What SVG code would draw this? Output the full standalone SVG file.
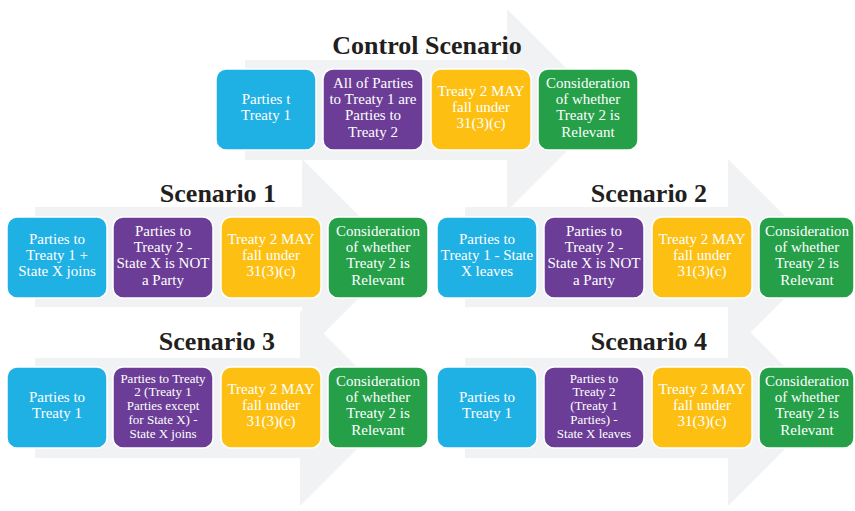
<svg xmlns="http://www.w3.org/2000/svg" width="855" height="511" viewBox="0 0 855 511">
<style>
.bg{fill:#f1f2f4}
.box{stroke:#ffffff;stroke-width:1.5}
.blue{fill:#1fb0e4}
.purple{fill:#6b3d96}
.yellow{fill:#fcbf12}
.green{fill:#25a049}
.t{font-family:"Liberation Serif","Times New Roman",serif;font-size:15px;fill:#ffffff;text-anchor:middle}
.s{font-size:13px}
.title{font-family:"Liberation Serif","Times New Roman",serif;font-size:26px;font-weight:bold;fill:#231f20;text-anchor:middle}
</style>
<rect width="855" height="511" fill="#ffffff"/>
<g id="connectors">
<path class="bg" d="M245,60 H507 V9 L608,110 L507,211 V160 H245 Z"/>
<path class="bg" d="M35,207 H302 V159 L400,257 L302,355 V307 H35 Z"/>
<path class="bg" d="M465,207 H728 V159 L826,257 L728,355 V307 H465 Z"/>
<path class="bg" d="M35,358 H300 V310 L398,408 L300,506 V458 H35 Z"/>
<path class="bg" d="M465,358 H728 V310 L826,408 L728,506 V458 H465 Z"/>
</g>
<g id="control">
<text class="title" x="427" y="54">Control Scenario</text>
<g id="c1"><rect class="box blue" x="216" y="69" width="100" height="81" rx="10"/>
<text class="t"><tspan x="266" y="104.2">Parties t</tspan><tspan x="266" y="120.4">Treaty 1</tspan></text></g>
<g id="c2"><rect class="box purple" x="323" y="69" width="100" height="81" rx="10"/>
<text class="t"><tspan x="373" y="87.9">All of Parties</tspan><tspan x="373" y="104.1">to Treaty 1 are</tspan><tspan x="373" y="120.3">Parties to</tspan><tspan x="373" y="136.5">Treaty 2</tspan></text></g>
<g id="c3"><rect class="box yellow" x="431" y="69" width="100" height="81" rx="10"/>
<text class="t"><tspan x="481" y="96">Treaty 2 MAY</tspan><tspan x="481" y="112.2">fall under</tspan><tspan x="481" y="128.4">31(3)(c)</tspan></text></g>
<g id="c4"><rect class="box green" x="538" y="69" width="100" height="81" rx="10"/>
<text class="t"><tspan x="588" y="87.9">Consideration</tspan><tspan x="588" y="104.1">of whether</tspan><tspan x="588" y="120.3">Treaty 2 is</tspan><tspan x="588" y="136.5">Relevant</tspan></text></g>
</g>
<g id="scenario1">
<text class="title" x="218" y="202">Scenario 1</text>
<g id="s1a"><rect class="box blue" x="7" y="217" width="100" height="81" rx="10"/>
<text class="t"><tspan x="57" y="244">Parties to</tspan><tspan x="57" y="260.2">Treaty 1 +</tspan><tspan x="57" y="276.4">State X joins</tspan></text></g>
<g id="s1b"><rect class="box purple" x="113" y="217" width="100" height="81" rx="10"/>
<text class="t"><tspan x="163" y="235.9">Parties to</tspan><tspan x="163" y="252.1">Treaty 2 -</tspan><tspan x="163" y="268.3">State X is NOT</tspan><tspan x="163" y="284.5">a Party</tspan></text></g>
<g id="s1c"><rect class="box yellow" x="221" y="217" width="100" height="81" rx="10"/>
<text class="t"><tspan x="271" y="244">Treaty 2 MAY</tspan><tspan x="271" y="260.2">fall under</tspan><tspan x="271" y="276.4">31(3)(c)</tspan></text></g>
<g id="s1d"><rect class="box green" x="328" y="217" width="100" height="81" rx="10"/>
<text class="t"><tspan x="378" y="235.9">Consideration</tspan><tspan x="378" y="252.1">of whether</tspan><tspan x="378" y="268.3">Treaty 2 is</tspan><tspan x="378" y="284.5">Relevant</tspan></text></g>
</g>
<g id="scenario2">
<text class="title" x="649" y="202">Scenario 2</text>
<g id="s2a"><rect class="box blue" x="437" y="217" width="100" height="81" rx="10"/>
<text class="t"><tspan x="487" y="244">Parties to</tspan><tspan x="487" y="260.2">Treaty 1 - State</tspan><tspan x="487" y="276.4">X leaves</tspan></text></g>
<g id="s2b"><rect class="box purple" x="544" y="217" width="100" height="81" rx="10"/>
<text class="t"><tspan x="594" y="235.9">Parties to</tspan><tspan x="594" y="252.1">Treaty 2 -</tspan><tspan x="594" y="268.3">State X is NOT</tspan><tspan x="594" y="284.5">a Party</tspan></text></g>
<g id="s2c"><rect class="box yellow" x="652" y="217" width="100" height="81" rx="10"/>
<text class="t"><tspan x="702" y="244">Treaty 2 MAY</tspan><tspan x="702" y="260.2">fall under</tspan><tspan x="702" y="276.4">31(3)(c)</tspan></text></g>
<g id="s2d"><rect class="box green" x="759" y="217" width="95" height="81" rx="10"/>
<text class="t"><tspan x="807" y="235.9">Consideration</tspan><tspan x="807" y="252.1">of whether</tspan><tspan x="807" y="268.3">Treaty 2 is</tspan><tspan x="807" y="284.5">Relevant</tspan></text></g>
</g>
<g id="scenario3">
<text class="title" x="217" y="350">Scenario 3</text>
<g id="s3a"><rect class="box blue" x="7" y="367" width="100" height="81" rx="10"/>
<text class="t"><tspan x="57" y="402.2">Parties to</tspan><tspan x="57" y="418.4">Treaty 1</tspan></text></g>
<g id="s3b"><rect class="box purple" x="113" y="367" width="100" height="81" rx="10"/>
<text class="t s"><tspan x="163" y="382.7">Parties to Treaty</tspan><tspan x="163" y="396.4">2 (Treaty 1</tspan><tspan x="163" y="410.1">Parties except</tspan><tspan x="163" y="423.8">for State X) -</tspan><tspan x="163" y="437.5">State X joins</tspan></text></g>
<g id="s3c"><rect class="box yellow" x="221" y="367" width="100" height="81" rx="10"/>
<text class="t"><tspan x="271" y="394">Treaty 2 MAY</tspan><tspan x="271" y="410.2">fall under</tspan><tspan x="271" y="426.4">31(3)(c)</tspan></text></g>
<g id="s3d"><rect class="box green" x="328" y="367" width="100" height="81" rx="10"/>
<text class="t"><tspan x="378" y="385.9">Consideration</tspan><tspan x="378" y="402.1">of whether</tspan><tspan x="378" y="418.3">Treaty 2 is</tspan><tspan x="378" y="434.5">Relevant</tspan></text></g>
</g>
<g id="scenario4">
<text class="title" x="649" y="350">Scenario 4</text>
<g id="s4a"><rect class="box blue" x="437" y="367" width="100" height="81" rx="10"/>
<text class="t"><tspan x="487" y="402.2">Parties to</tspan><tspan x="487" y="418.4">Treaty 1</tspan></text></g>
<g id="s4b"><rect class="box purple" x="544" y="367" width="100" height="81" rx="10"/>
<text class="t s"><tspan x="594" y="382.7">Parties to</tspan><tspan x="594" y="396.4">Treaty 2</tspan><tspan x="594" y="410.1">(Treaty 1</tspan><tspan x="594" y="423.8">Parties) -</tspan><tspan x="594" y="437.5">State X leaves</tspan></text></g>
<g id="s4c"><rect class="box yellow" x="652" y="367" width="100" height="81" rx="10"/>
<text class="t"><tspan x="702" y="394">Treaty 2 MAY</tspan><tspan x="702" y="410.2">fall under</tspan><tspan x="702" y="426.4">31(3)(c)</tspan></text></g>
<g id="s4d"><rect class="box green" x="759" y="367" width="95" height="81" rx="10"/>
<text class="t"><tspan x="807" y="385.9">Consideration</tspan><tspan x="807" y="402.1">of whether</tspan><tspan x="807" y="418.3">Treaty 2 is</tspan><tspan x="807" y="434.5">Relevant</tspan></text></g>
</g>
</svg>
